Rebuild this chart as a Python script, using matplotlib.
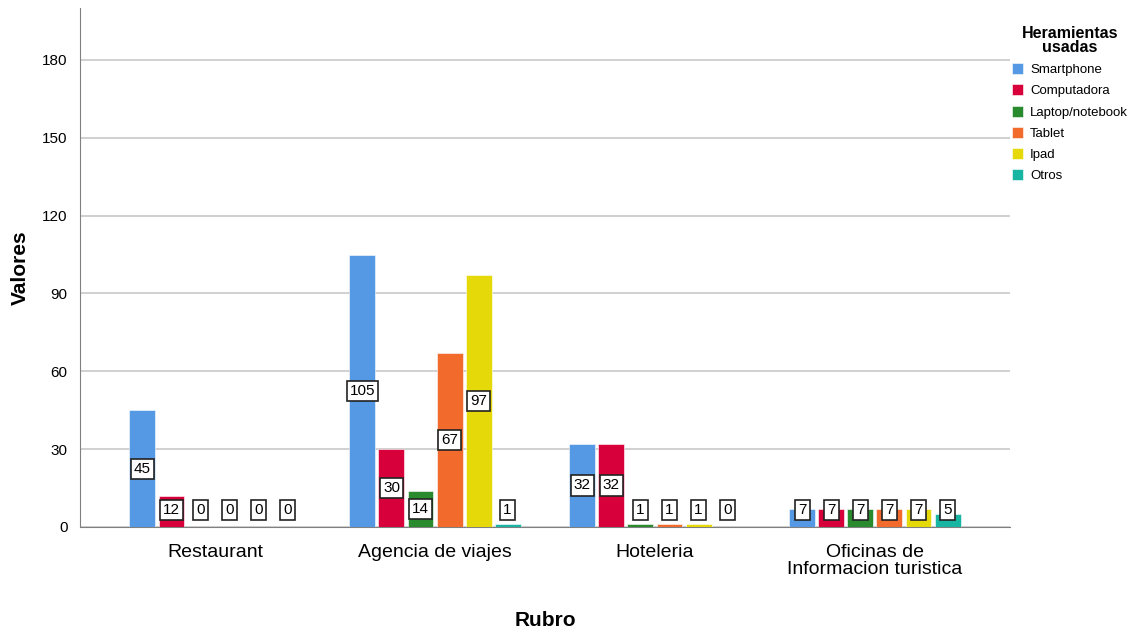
import matplotlib
matplotlib.use('Agg')
import matplotlib.pyplot as plt
import numpy as np

plt.rcParams['font.family'] = ['Liberation Sans', 'DejaVu Sans']

rubros = ['Restaurant', 'Agencia de viajes', 'Hoteleria', 'Oficinas de\nInformacion turistica']
herramientas = ['Smartphone', 'Computadora', 'Laptop/notebook', 'Tablet', 'Ipad', 'Otros']
colores = ['#5598e3', '#d8003a', '#2a8a2e', '#f26a2c', '#e5d90a', '#17b5a2']

smartphone = [45, 105, 32, 7]
computadora = [12, 30, 32, 7]
laptop = [0, 14, 1, 7]
tablet = [0, 67, 1, 7]
ipad = [0, 97, 1, 7]
otros = [0, 1, 0, 5]
series = [smartphone, computadora, laptop, tablet, ipad, otros]

fig = plt.figure(figsize=(11.41, 6.32), dpi=100)
ax = fig.add_axes([80 / 1141, 1 - 527 / 632, 930 / 1141, 519 / 632])

x = np.arange(len(rubros))
pitch = 0.132
width = 0.118
for i, (name, vals, col) in enumerate(zip(herramientas, series, colores)):
    pos = x + (i - 2.5) * pitch
    ax.bar(pos, vals, width=width, color=col, label=name, edgecolor='white',
           linewidth=0.4, zorder=3)
    for p, v in zip(pos, vals):
        ax.text(p, max(v / 2, 6.5), str(v), ha='center', va='center', fontsize=11,
                zorder=4, bbox=dict(boxstyle='square,pad=0.2', fc='white', ec='#222222', lw=1.2))

ax.set_xlim(-0.614, 3.614)
ax.set_ylim(0, 200)
ax.set_yticks(np.arange(0, 181, 30))
ax.yaxis.grid(True, color='#c8c8c8', linewidth=1.2, zorder=0)
ax.set_axisbelow(True)
ax.set_xticks(x)
ax.set_xticklabels(rubros, fontsize=14, linespacing=1.0)
ax.tick_params(axis='y', labelsize=11, length=0, pad=9)
ax.tick_params(axis='x', length=0, pad=12)
for s in ['top', 'right']:
    ax.spines[s].set_visible(False)
ax.spines['left'].set_color('#808080')
ax.spines['bottom'].set_color('#808080')
ax.set_xlabel('Rubro', fontsize=15, fontweight='bold', labelpad=24)
ax.set_ylabel('Valores', fontsize=15, fontweight='bold')
ax.yaxis.set_label_coords(-50 / 930, 0.5)

leg = ax.legend(title='Heramientas\nusadas', loc='upper left', bbox_to_anchor=(0.996, 0.975),
                frameon=False, fontsize=9.5, handlelength=0.9, handleheight=0.9,
                handletextpad=0.5, labelspacing=0.62, borderaxespad=0.0)
leg.get_title().set_fontweight('bold')
leg.get_title().set_fontsize(11.5)
leg.get_title().set_linespacing(0.9)
leg.get_title().set_multialignment('center')

fig.savefig('out.png', dpi=100)
